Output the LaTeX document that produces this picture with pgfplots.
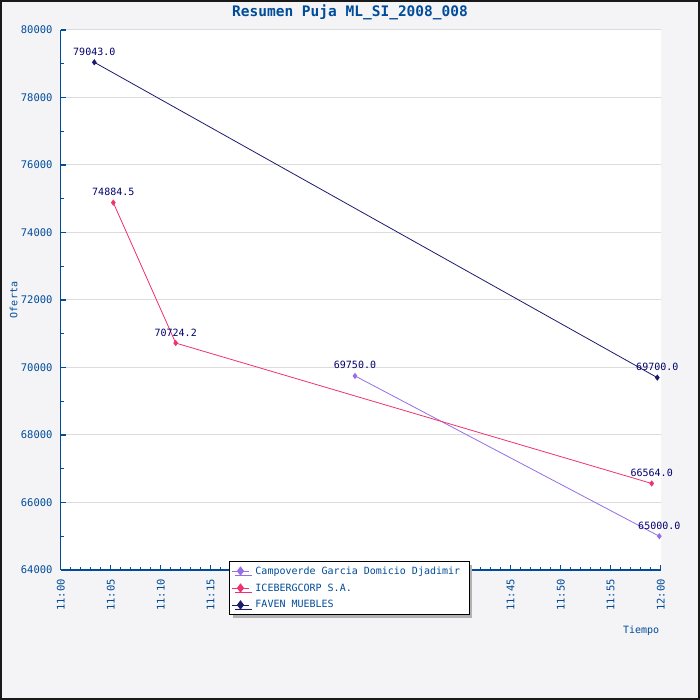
\documentclass[border=0pt]{standalone}
\usepackage{pgfplots}
\pgfplotsset{compat=1.18}
\usepackage{fontspec}
\setmainfont{DejaVu Sans Mono}
\usetikzlibrary{shadows}
\definecolor{bgc}{RGB}{244,244,246}
\definecolor{axisblue}{RGB}{0,76,153}
\definecolor{labelblue}{RGB}{0,0,110}
\definecolor{gridgray}{RGB}{220,220,220}
\definecolor{faven}{RGB}{30,26,110}
\definecolor{iceberg}{RGB}{240,50,110}
\definecolor{campo}{RGB}{150,110,230}
\begin{document}
\begin{tikzpicture}
\fill[bgc] (0pt,0pt) rectangle (700pt,700pt);
\draw[black!90, line width=2pt] (1pt,1pt) rectangle (699pt,699pt);
\node[font=\fontsize{14.5}{16}\selectfont\bfseries, text=axisblue] at (350pt,688pt) {Resumen Puja ML\_SI\_2008\_008};
\begin{axis}[
  at={(60.7pt,130pt)}, anchor=south west,
  scale only axis, width=600pt, height=540pt,
  xmin=0, xmax=60, ymin=64000, ymax=80000,
  clip=false,
  axis background/.style={fill=white},
  axis x line*=bottom, axis y line*=left,
  axis line style={draw=axisblue, line width=1.3pt},
  tick style={draw=axisblue, line width=1.1pt},
  tick align=inside,
  major tick length=5pt, minor tick length=3pt,
  xtick={0,5,...,60},
  xticklabels={11:00,11:05,11:10,11:15,11:20,11:25,11:30,11:35,11:40,11:45,11:50,11:55,12:00},
  minor x tick num=4,
  ytick={64000,66000,...,80000},
  scaled y ticks=false,
  minor y tick num=1,
  ymajorgrids,
  major grid style={draw=gridgray, line width=1pt},
  tick label style={font=\fontsize{10.5}{12}\selectfont, text=axisblue},
  /pgf/number format/assume math mode=true,
  /pgf/number format/1000 sep={},
  xticklabel style={rotate=90, anchor=east, inner sep=0pt},
  xticklabel shift={9pt},
  yticklabel style={anchor=east, inner sep=0pt},
  yticklabel shift={8pt},
  xlabel={Tiempo}, ylabel={Oferta},
  label style={font=\fontsize{10}{12}\selectfont, text=axisblue},
  xlabel style={at={(axis description cs:0.9675,-0.113)}, anchor=center},
  ylabel style={at={(axis description cs:-0.0783,0.5)}, anchor=center, rotate=0},
  legend style={at={(axis description cs:0.2805,0.0167)}, anchor=north west,
    draw=black, line width=1pt, fill=white,
    font=\fontsize{10}{12}\selectfont, text=axisblue,
    drop shadow={shadow xshift=3pt, shadow yshift=-4pt, fill=black!30, opacity=1},
    row sep=4pt, inner xsep=2pt, inner ysep=3pt,
    /tikz/every odd column/.append style={column sep=4pt}},
  legend cell align=left,
  legend image post style={mark size=4pt, line width=0.9pt},
  nodes near coords,
  point meta=explicit symbolic,
  every node near coord/.append style={anchor=base, inner sep=0pt, yshift=7pt, text=labelblue, font=\fontsize{10}{12}\selectfont},
]
\addplot[color=campo, line width=0.8pt, mark=diamond*, mark size=2.5pt, mark options={solid, fill=campo}]
  coordinates {(29.43,69750) [69750.0] (59.86,65000) [65000.0]};
\addlegendentry{Campoverde Garcia Domicio Djadimir\hspace*{5pt}}
\addplot[color=iceberg, line width=0.8pt, mark=diamond*, mark size=2.5pt, mark options={solid, fill=iceberg}]
  coordinates {(5.26,74884.5) [74884.5] (11.5,70724.2) [70724.2] (59.1,66564) [66564.0]};
\addlegendentry{ICEBERGCORP S.A.}
\addplot[color=faven, line width=0.8pt, mark=diamond*, mark size=2.5pt, mark options={solid, fill=faven}]
  coordinates {(3.36,79043) [79043.0] (59.66,69700) [69700.0]};
\addlegendentry{FAVEN MUEBLES}
\end{axis}
\pgfresetboundingbox
\useasboundingbox (0pt,0pt) rectangle (700pt,700pt);
\end{tikzpicture}
\end{document}
